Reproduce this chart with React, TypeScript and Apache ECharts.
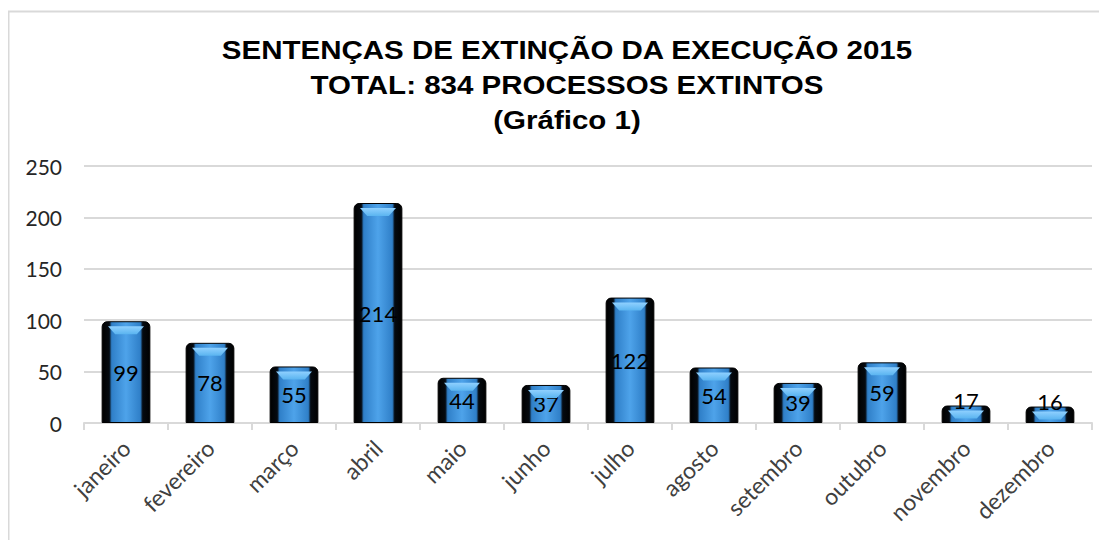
import React, { useEffect, useRef } from "react";
import * as echarts from "echarts";

const categories = ["janeiro", "fevereiro", "março", "abril", "maio", "junho", "julho", "agosto", "setembro", "outubro", "novembro", "dezembro"];
const values = [99, 78, 55, 214, 44, 37, 122, 54, 39, 59, 17, 16];
const titleLines = ["SENTENÇAS DE EXTINÇÃO DA EXECUÇÃO 2015", "TOTAL: 834 PROCESSOS EXTINTOS", "(Gráfico 1)"];
const yMax = 250;
const yInterval = 50;

export default function App() {
  const ref = useRef<HTMLDivElement>(null);
  useEffect(() => {
    const chart = echarts.init(ref.current!, null, { renderer: "svg" });
    const barColor = new echarts.graphic.LinearGradient(0, 0, 1, 0, [
      { offset: 0, color: "#000000" },
      { offset: 0.15, color: "#050a10" },
      { offset: 0.2, color: "#2f7fc8" },
      { offset: 0.5, color: "#4ea3ea" },
      { offset: 0.8, color: "#2f7fc8" },
      { offset: 0.85, color: "#050a10" },
      { offset: 1, color: "#000000" },
    ]);
    const bevelColor = new echarts.graphic.LinearGradient(0, 0, 0, 1, [
      { offset: 0, color: "#8fd0ff" },
      { offset: 1, color: "#5ab4f0" },
    ]);
    const data = values.map((v) => {
      const small = v < 30;
      return {
        value: v,
        label: small
          ? { position: "top", distance: -6 }
          : { position: "inside" },
      };
    });
    chart.setOption({
      animation: false,
      graphic: [
        {
          type: "rect",
          shape: { x: 0.5, y: 3.5, width: 2000, height: 2000 },
          style: { fill: "none", stroke: "#d9d9d9", lineWidth: 2 },
          silent: true,
        },
        ...titleLines.map((t, i) => ({
          type: "text",
          x: 559,
          y: 42 + i * 35,
          scaleX: 1.18,
          style: {
            text: t,
            fontFamily: "Liberation Sans",
            fontWeight: "bold",
            fontSize: 25,
            fill: "#000",
            textAlign: "center",
            textVerticalAlign: "middle",
          },
        })),
      ],
      grid: { left: 76, right: 15, top: 158, bottom: 117, containLabel: false },
      xAxis: {
        type: "category",
        data: categories,
        axisLine: { lineStyle: { color: "#d9d9d9", width: 2 } },
        axisTick: { show: true, length: 7, lineStyle: { color: "#d9d9d9", width: 2 } },
        axisLabel: {
          rotate: 45,
          fontFamily: "Lato",
          fontSize: 23,
          color: "#404040",
          margin: 21,
          interval: 0,
        },
      },
      yAxis: {
        type: "value",
        min: 0,
        max: yMax,
        interval: yInterval,
        axisLine: { show: false },
        axisTick: { show: false },
        splitLine: { lineStyle: { color: "#d9d9d9", width: 2 } },
        axisLabel: { fontFamily: "Lato", fontSize: 21, color: "#262626", margin: 22 },
      },
      series: [
        {
          type: "bar",
          data,
          barWidth: "58%",
          itemStyle: {
            color: barColor,
            borderColor: "#000",
            borderWidth: 1,
            borderRadius: [5, 5, 0, 0],
          },
          label: {
            show: true,
            fontFamily: "Lato",
            fontSize: 22,
            color: "#000",
          },
          z: 2,
        },
        {
          type: "pictorialBar",
          data: values,
          symbol: "path://M0,0 L10,0 L8,2 L2,2 Z",
          symbolSize: [36, 8],
          symbolPosition: "end",
          symbolOffset: [0, 5],
          itemStyle: { color: bevelColor },
          silent: true,
          z: 3,
        },
      ],
    });
    return () => chart.dispose();
  }, []);
  return <div ref={ref} style={{ width: 1099, height: 532 }} />;
}
